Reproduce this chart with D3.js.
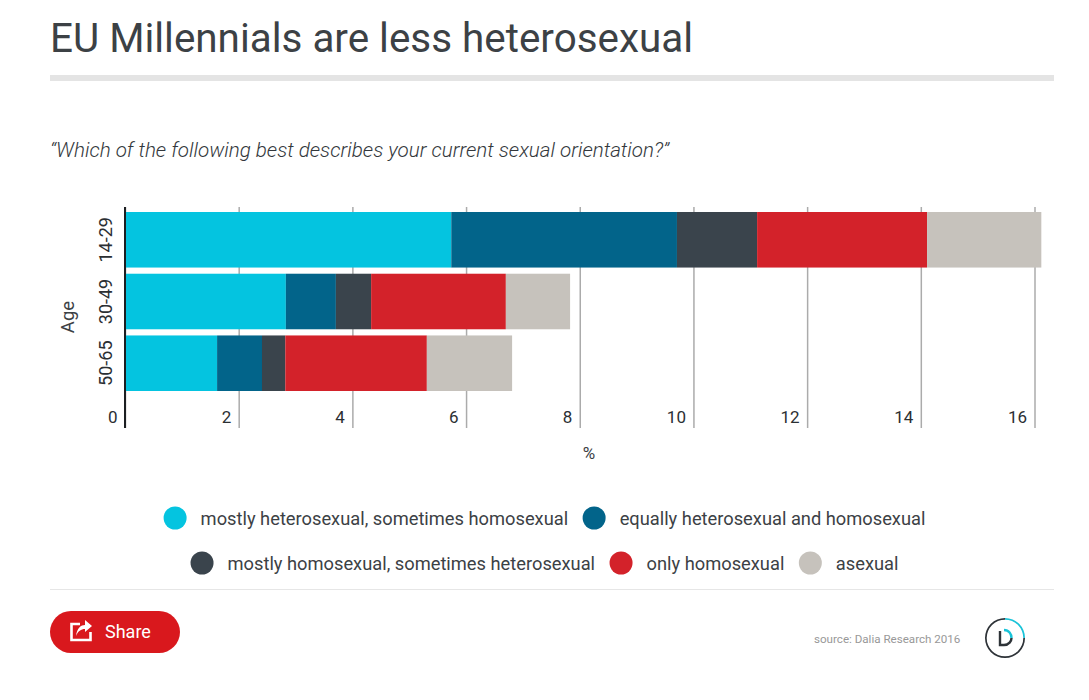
<!DOCTYPE html>
<html>
<head>
<meta charset="utf-8">
<title>EU Millennials are less heterosexual</title>
<script src="https://cdn.jsdelivr.net/npm/d3@7"></script>
<style>
  html, body { margin: 0; padding: 0; background: #fff; }
  svg { display: block; }
  text { font-family: Roboto, sans-serif; }
</style>
</head>
<body>
<svg id="chart" width="1089" height="700"></svg>
<script>
var ages = ["14-29", "30-49", "50-65"];
var seriesNames = [
  "mostly heterosexual, sometimes homosexual",
  "equally heterosexual and homosexual",
  "mostly homosexual, sometimes heterosexual",
  "only homosexual",
  "asexual"
];
var mostlyHetero = [5.74, 2.83, 1.62];
var equally = [3.97, 0.88, 0.79];
var mostlyHomo = [1.41, 0.62, 0.41];
var onlyHomo = [2.99, 2.37, 2.49];
var asexual = [2.01, 1.13, 1.50];
var seriesValues = [mostlyHetero, equally, mostlyHomo, onlyHomo, asexual];
var seriesColors = ["#04c4e0", "#02648a", "#3a444c", "#d3222a", "#c6c2bc"];
var xTicks = [0, 2, 4, 6, 8, 10, 12, 14, 16];
var legendRows = [[0, 1], [2, 3, 4]];

var svg = d3.select("#chart");

// header
svg.append("text").attr("x", 50).attr("y", 52)
    .attr("font-size", 40.4).attr("fill", "#3c4145")
    .text("EU Millennials are less heterosexual");
svg.append("rect").attr("x", 50).attr("y", 75).attr("width", 1004).attr("height", 6).attr("fill", "#e4e4e4");
svg.append("text").attr("x", 50).attr("y", 156.5)
    .attr("font-size", 20.6).attr("font-weight", 300).attr("font-style", "italic").attr("fill", "#33383c")
    .text("\u201CWhich of the following best describes your current sexual orientation?\u201D");

// scales
var x = d3.scaleLinear().domain([0, 16]).range([125, 1034.5]);
var y = d3.scaleBand().domain(ages).range([212, 391]).paddingInner(0.1);

// gridlines + x axis
var xAxis = d3.axisBottom(x).tickValues(xTicks).tickSize(221).tickPadding(0);
var gx = svg.append("g").attr("transform", "translate(0,207)").call(xAxis);
gx.select(".domain").remove();
gx.selectAll(".tick line").attr("stroke", "#ababab").attr("stroke-width", 1.5);
gx.selectAll(".tick text")
    .attr("y", 215.5).attr("dy", 0).attr("x", -8)
    .attr("text-anchor", "end")
    .attr("font-family", "'Open Sans', sans-serif")
    .attr("font-size", 17).attr("fill", "#2b2f33");

// stacked bars
var rows = ages.map(function(a, i) {
  var row = { age: a };
  seriesValues.forEach(function(v, j) { row[j] = v[i]; });
  return row;
});
var stacked = d3.stack().keys(d3.range(seriesValues.length))(rows);

svg.append("g").selectAll("g").data(stacked).join("g")
    .attr("fill", function(d, i) { return seriesColors[i]; })
  .selectAll("rect").data(function(d) { return d; }).join("rect")
    .attr("x", function(d) { return x(d[0]); })
    .attr("y", function(d) { return y(d.data.age); })
    .attr("width", function(d) { return x(d[1]) - x(d[0]); })
    .attr("height", y.bandwidth());

// y axis
var yAxis = d3.axisLeft(y).tickSize(0).tickPadding(0);
var gy = svg.append("g").attr("transform", "translate(125,0)").call(yAxis);
gy.select(".domain").remove();
gy.selectAll(".tick text")
    .attr("transform", "translate(-13,0) rotate(-90)")
    .attr("x", 0).attr("y", 0).attr("dy", 0)
    .attr("text-anchor", "middle")
    .attr("font-size", 18).attr("fill", "#2b2f33");
svg.append("line").attr("x1", 125).attr("x2", 125).attr("y1", 207).attr("y2", 428)
    .attr("stroke", "#1c1f22").attr("stroke-width", 2);

// axis titles
svg.append("text").attr("transform", "translate(74,317) rotate(-90)")
    .attr("text-anchor", "middle").attr("font-size", 18.5).attr("fill", "#3c4145").text("Age");
svg.append("text").attr("x", 589).attr("y", 459)
    .attr("text-anchor", "middle").attr("font-size", 17).attr("fill", "#3c4145").text("%");

// legend, each row centred on the measured width of its items
legendRows.forEach(function(items, r) {
  var rowY = 518 + r * 45;
  var g = svg.append("g");
  var cursor = 0;
  items.forEach(function(idx) {
    g.append("circle").attr("cx", cursor + 11.5).attr("cy", rowY).attr("r", 11.5).attr("fill", seriesColors[idx]);
    var t = g.append("text").attr("x", cursor + 37).attr("y", rowY + 7)
        .attr("font-size", 18.3).attr("fill", "#3c4145").text(seriesNames[idx]);
    cursor += 37 + t.node().getComputedTextLength() + 14.5;
  });
  g.attr("transform", "translate(" + (544.5 - (cursor - 14.5) / 2) + ",0)");
});
svg.append("line").attr("x1", 50).attr("x2", 1054).attr("y1", 589.5).attr("y2", 589.5)
    .attr("stroke", "#e6e6e6").attr("stroke-width", 1);

// share button
svg.append("rect").attr("x", 50).attr("y", 611).attr("width", 130).attr("height", 42).attr("rx", 21).attr("fill", "#d9181d");
svg.append("path")
    .attr("d", "M80 624 H71.5 V640 H90.5 V632")
    .attr("fill", "none").attr("stroke", "#fff").attr("stroke-width", 2.6);
svg.append("path")
    .attr("d", "M76 636 C77 628 81 625 85 625 V620 L92 626 L85 632 V629 C81 629 78 631 76 636 Z")
    .attr("fill", "#fff");
svg.append("text").attr("x", 105).attr("y", 638).attr("font-size", 18).attr("fill", "#fff").text("Share");

// source + logo
svg.append("text").attr("x", 814).attr("y", 643)
    .attr("font-family", "Lato, sans-serif").attr("font-size", 11.6).attr("fill", "#989898")
    .text("source: Dalia Research 2016");
var logo = svg.append("g").attr("transform", "translate(1005,638)");
var arc = d3.arc().innerRadius(18.3).outerRadius(20);
logo.append("path").attr("d", arc({ startAngle: Math.PI / 2, endAngle: Math.PI * 2 })).attr("fill", "#2e3338");
logo.append("path").attr("d", arc({ startAngle: 0, endAngle: Math.PI / 2 })).attr("fill", "#19c3d8");
logo.append("path").attr("d", "M-5 -7 V7 H-1 C4 7 6.5 3 6.5 0").attr("fill", "none").attr("stroke", "#2e3338").attr("stroke-width", 2.4);
logo.append("path").attr("d", "M-1 -8 C4 -8 6.5 -4 6.5 0").attr("fill", "none").attr("stroke", "#19c3d8").attr("stroke-width", 2.4);
</script>
</body>
</html>
